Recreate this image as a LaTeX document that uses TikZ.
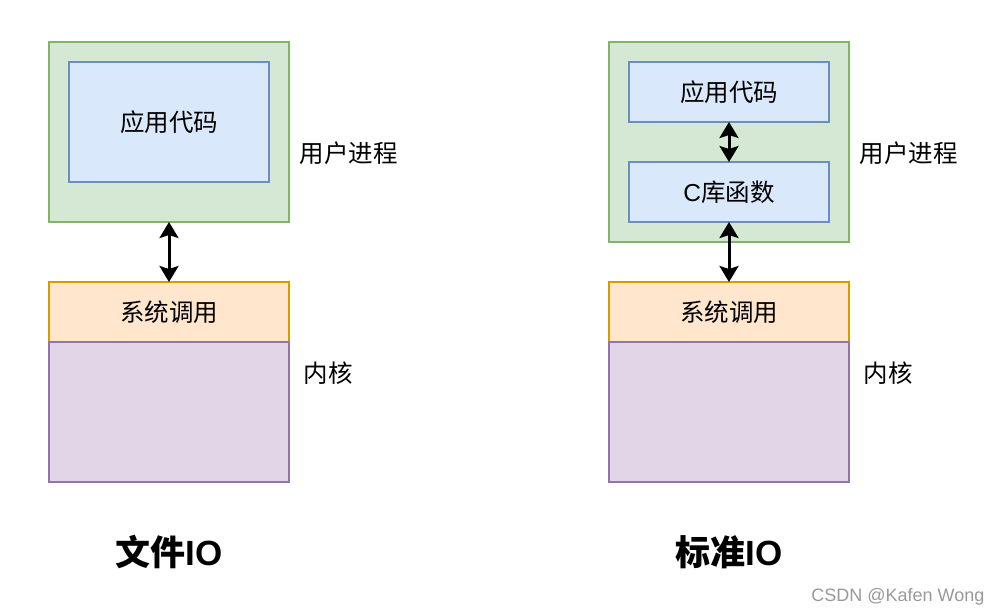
\documentclass[tikz,border=0pt]{standalone}
\usepackage{fontspec}
\setmainfont{Noto Sans CJK SC}
\newfontfamily\marksans{Liberation Sans}
\usetikzlibrary{arrows.meta,positioning}
\definecolor{procfill}{HTML}{D5E8D4}
\definecolor{procdraw}{HTML}{82B366}
\definecolor{codefill}{HTML}{DAE8FC}
\definecolor{codedraw}{HTML}{6C8EBF}
\definecolor{callfill}{HTML}{FFE6CC}
\definecolor{calldraw}{HTML}{D79B00}
\definecolor{kernfill}{HTML}{E1D5E7}
\definecolor{kerndraw}{HTML}{9673A6}

\begin{document}
\begin{tikzpicture}[x=1pt, y=-1pt,
			box/.style={rectangle, line width=1.8pt, inner sep=0pt, outer sep=0pt, minimum width=240pt,
					text=black, font=\fontsize{24.5}{28}\selectfont},
			process/.style={box, fill=procfill, draw=procdraw},
			code/.style={box, fill=codefill, draw=codedraw, minimum width=200pt},
			syscall/.style={box, fill=callfill, draw=calldraw, minimum height=60pt},
			kernel/.style={box, fill=kernfill, draw=kerndraw, minimum height=140pt},
			side/.style={anchor=west, font=\fontsize{24.5}{28}\selectfont},
			title/.style={font=\fontsize{35}{40}\selectfont\bfseries},
			link/.style={line width=3pt, {Stealth[length=16pt,width=19pt,inset=3pt]}-{Stealth[length=16pt,width=19pt,inset=3pt]}},]
		\useasboundingbox (0,0) rectangle (1002,616);

		% file IO
		\node (fproc) [process, minimum height=180pt] at (169,132) {};
		\node (fapp) [code, minimum height=120pt] at (169,122) {应用代码};
		\node (fcall) [syscall, below=60pt of fproc] {系统调用};
		\node (fkern) [kernel, below=0pt of fcall] {};
		\node (fuser) [side] at (296,153) {用户进程};
		\node (fcore) [side] at (300,373) {内核};
		\node (ftitle) [title] at (169,552) {文件{\marksans IO}};
		\draw [link] (fproc) -- (fcall);

		% standard IO
		\node (sproc) [process, minimum height=200pt] at (729,142) {};
		\node (sapp) [code, minimum height=60pt] at (729,92) {应用代码};
		\node (slib) [code, minimum height=60pt, below=40pt of sapp] {{\marksans C}库函数};
		\node (scall) [syscall, below=40pt of sproc] {系统调用};
		\node (skern) [kernel, below=0pt of scall] {};
		\node (suser) [side] at (856,153) {用户进程};
		\node (score) [side] at (860,373) {内核};
		\node (stitle) [title] at (729,552) {标准{\marksans IO}};
		\draw [link] (sapp) -- (slib);
		\draw [link] (slib) -- (scall);

		\node (mark) [anchor=east, text=black!40, font=\marksans\fontsize{18}{21}\selectfont] at (988,597) {CSDN @Kafen Wong};
	\end{tikzpicture}
\end{document}
